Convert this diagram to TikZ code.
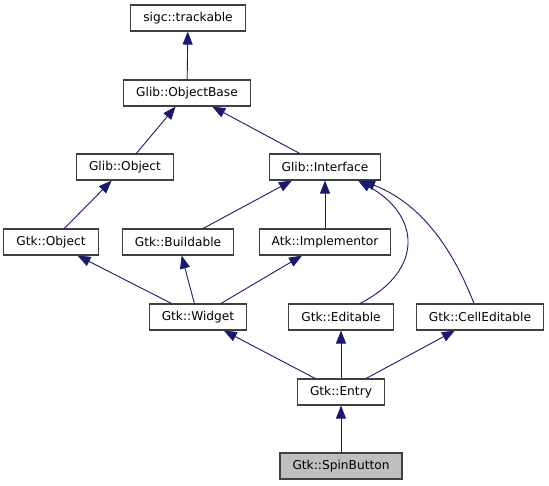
\documentclass[tikz,border=0pt]{standalone}
\usepackage{fontspec}
\setmainfont{DejaVu Sans}
\usetikzlibrary{arrows.meta}
\definecolor{edgeblue}{RGB}{25,25,112}

\begin{document}
\begin{tikzpicture}[x=1pt,y=-1pt,
  cls/.style={draw=black!75,line width=1.1pt,fill=white,minimum height=26pt,
    inner xsep=12.5pt,inner ysep=0pt,font=\fontsize{12.2}{14}\selectfont},
  edge/.style={draw=edgeblue,line width=0.9pt,-{Triangle[length=13pt,width=10pt]}}]
\useasboundingbox (0,0) rectangle (549,485);

% classes, row by row
\node[cls] (trackable) at (188,18) {sigc::trackable};
\node[cls] (objectbase) at (187,93) {Glib::ObjectBase};
\node[cls] (glibobject) at (125,167) {Glib::Object};
\node[cls] (interface) at (325,167) {Glib::Interface};
\node[cls] (gtkobject) at (51,242) {Gtk::Object};
\node[cls] (buildable) at (178,242) {Gtk::Buildable};
\node[cls] (implementor) at (325,242) {Atk::Implementor};
\node[cls] (widget) at (198,317) {Gtk::Widget};
\node[cls] (editable) at (341,317) {Gtk::Editable};
\node[cls] (celleditable) at (480,317) {Gtk::CellEditable};
\node[cls] (entry) at (341,392) {Gtk::Entry};
\node[cls,fill=black!25] (spinbutton) at (341,466) {Gtk::SpinButton};

% inheritance
\draw[edge] (objectbase) -- (trackable);
\draw[edge] (glibobject) -- (objectbase);
\draw[edge] (interface) -- (objectbase);
\draw[edge] (gtkobject) -- (glibobject);
\draw[edge] (buildable) -- ([xshift=-33pt]interface.south);
\draw[edge] (implementor) -- (interface);
\draw[edge] ([xshift=19pt]editable.north) .. controls (425,270) and (420,215) .. ([xshift=33pt]interface.south);
\draw[edge] ([xshift=-6pt]celleditable.north) .. controls (455,255) and (425,205) .. ([xshift=37pt]interface.south);
\draw[edge] (widget) -- (gtkobject);
\draw[edge] (widget) -- (buildable);
\draw[edge] (widget) -- (implementor);
\draw[edge] (entry) -- (widget);
\draw[edge] (entry) -- (editable);
\draw[edge] (entry) -- (celleditable);
\draw[edge] (spinbutton) -- (entry);
\end{tikzpicture}
\end{document}
